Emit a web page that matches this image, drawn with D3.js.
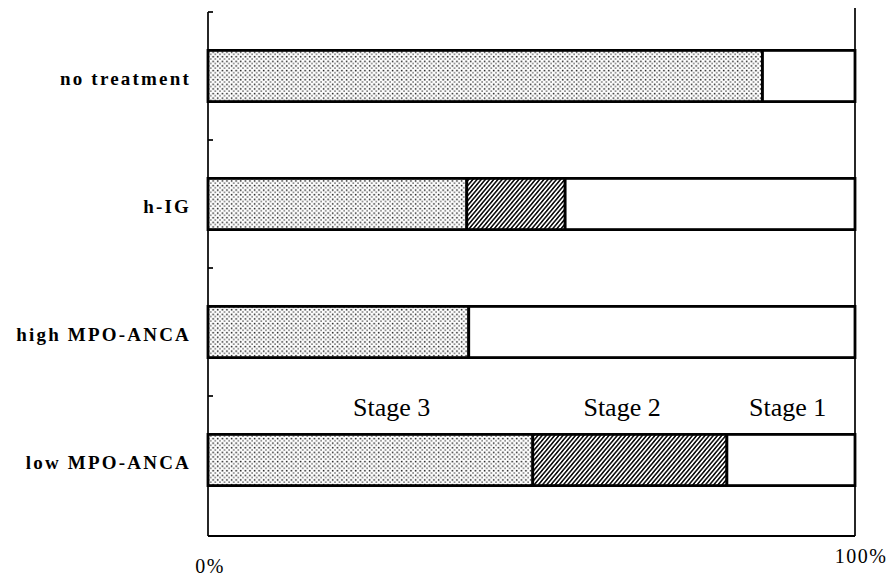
<!DOCTYPE html>
<html><head><meta charset="utf-8">
<script src="https://cdn.jsdelivr.net/npm/d3@7"></script>
<style>body{margin:0;background:#fff}svg{display:block}</style>
</head><body>
<svg id="c" width="892" height="576"></svg>
<script>
// ---- data ----
const categories = ["no treatment", "h-IG", "high MPO-ANCA", "low MPO-ANCA"];
const stage3 = [85.7, 40, 40.3, 50.2];
const stage2 = [0, 15.2, 0, 30];
const stage1 = [14.3, 44.8, 59.7, 19.8];
const stageNames = ["Stage 3", "Stage 2", "Stage 1"];
const xTickValues = [0, 100];
const xTickLabels = ["0%", "100%"];

const svg = d3.select("#c");
const x0 = 208, x1 = 855, yTop = 12, yBot = 536;
const x = d3.scaleLinear().domain([0, 100]).range([x0, x1]);
const y = d3.scaleBand().domain(categories).range([yTop, 524]).paddingInner(0.6).paddingOuter(0.3);

const defs = svg.append("defs");
const dots = defs.append("pattern").attr("id", "dots").attr("patternUnits", "userSpaceOnUse")
  .attr("width", 4.6).attr("height", 4.6);
dots.append("rect").attr("width", 4.6).attr("height", 4.6).attr("fill", "#fff");
dots.append("rect").attr("x", 0.8).attr("y", 0.8).attr("width", 1.5).attr("height", 1.5).attr("fill", "#111");
dots.append("rect").attr("x", 3.1).attr("y", 3.1).attr("width", 1.3).attr("height", 1.3).attr("fill", "#333");
const hatch = defs.append("pattern").attr("id", "hatch").attr("patternUnits", "userSpaceOnUse")
  .attr("width", 3.2).attr("height", 10).attr("patternTransform", "rotate(40)");
hatch.append("rect").attr("width", 3.2).attr("height", 10).attr("fill", "#fff");
hatch.append("rect").attr("width", 1.6).attr("height", 10).attr("fill", "#111");

const fills = ["url(#dots)", "url(#hatch)", "#fff"];
const rows = categories.map((c, i) => {
  const vals = [stage3[i], stage2[i], stage1[i]];
  let acc = 0;
  return vals.map((v, k) => { const s = {cat: c, k, start: acc, end: acc + v}; acc += v; return s; })
    .filter(s => s.end > s.start);
});

// frame
svg.append("line").attr("x1", x0).attr("x2", x0).attr("y1", yTop).attr("y2", yBot)
  .attr("stroke", "#000").attr("stroke-width", 1.7);
svg.append("line").attr("x1", x1).attr("x2", x1).attr("y1", 8).attr("y2", yBot)
  .attr("stroke", "#000").attr("stroke-width", 1.7);
svg.append("line").attr("x1", x0).attr("x2", x1).attr("y1", yBot).attr("y2", yBot)
  .attr("stroke", "#000").attr("stroke-width", 2);
// left ticks at band boundaries
const tickYs = categories.map(c => y(c) - (y.step() - y.bandwidth()) / 2);
svg.selectAll("line.tick").data(tickYs).join("line").attr("class", "tick")
  .attr("x1", x0).attr("x2", x0 + 5).attr("y1", d => d).attr("y2", d => d)
  .attr("stroke", "#000").attr("stroke-width", 1.7);

// bars
svg.selectAll("g.row").data(rows).join("g").attr("class", "row")
  .selectAll("rect").data(d => d).join("rect")
  .attr("x", d => x(d.start)).attr("width", d => x(d.end) - x(d.start))
  .attr("y", d => y(d.cat)).attr("height", y.bandwidth())
  .attr("fill", d => fills[d.k]).attr("stroke", "#000").attr("stroke-width", 2.8);

// category labels
svg.selectAll("text.cat").data(categories).join("text").attr("class", "cat")
  .attr("x", 191).attr("y", d => y(d) + y.bandwidth() / 2 + 9)
  .attr("text-anchor", "end")
  .style("font-family", "'Liberation Serif', serif").style("font-weight", "bold")
  .style("font-size", "19px").style("letter-spacing", "2.2px")
  .text(d => d);

// stage labels above last bar
const lastCat = categories[categories.length - 1];
const stagePos = [28.4, 64, 89.6];
svg.selectAll("text.stage").data(stageNames).join("text").attr("class", "stage")
  .attr("x", (d, i) => x(stagePos[i])).attr("y", y(lastCat) - 18)
  .attr("text-anchor", "middle")
  .style("font-family", "'Liberation Serif', serif").style("font-size", "26px")
  .text(d => d);

// x tick labels
svg.selectAll("text.xt").data(xTickValues).join("text").attr("class", "xt")
  .attr("x", (d, i) => x(d) + (i ? 6 : 2)).attr("y", (d, i) => i ? 563 : 573)
  .attr("text-anchor", "middle")
  .style("font-family", "'Liberation Serif', serif").style("font-size", "20px")
  .style("letter-spacing", "1.5px")
  .text((d, i) => xTickLabels[i]);
</script>
</body></html>
